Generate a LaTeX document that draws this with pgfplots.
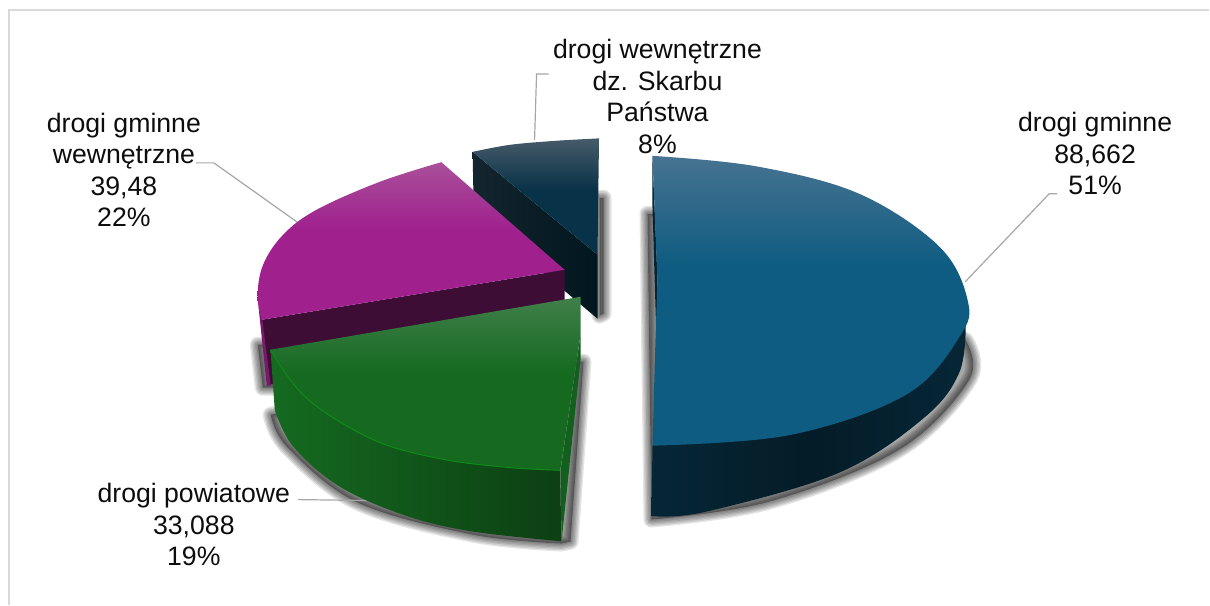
\documentclass[border=0pt]{standalone}
\usepackage{fontspec}
\setmainfont{Liberation Sans}
\usepackage{pgfplots}
\usepackage{pgfplotstable}
\pgfplotsset{compat=1.18}
\definecolor{bluetop}{HTML}{477391}\definecolor{bluemain}{HTML}{0E5C82}
\definecolor{greentop}{HTML}{417F4B}\definecolor{greenmain}{HTML}{156A20}
\definecolor{magtop}{HTML}{A8509A}\definecolor{magmain}{HTML}{A0218E}
\definecolor{darktop}{HTML}{465B69}\definecolor{darkmain}{HTML}{083248}
\definecolor{darkwallL}{HTML}{14252E}\definecolor{darkwallR}{HTML}{01161E}
\pgfdeclareverticalshading{blueS}{100bp}{color(0bp)=(bluemain);color(56bp)=(bluemain);color(75bp)=(bluetop);color(100bp)=(bluetop)}
\pgfdeclareverticalshading{greenS}{100bp}{color(0bp)=(greenmain);color(53bp)=(greenmain);color(75bp)=(greentop);color(100bp)=(greentop)}
\pgfdeclareverticalshading{magS}{100bp}{color(0bp)=(magmain);color(54bp)=(magmain);color(75bp)=(magtop);color(100bp)=(magtop)}
\pgfdeclareverticalshading{darkS}{100bp}{color(0bp)=(darkmain);color(53bp)=(darkmain);color(75bp)=(darktop);color(100bp)=(darktop)}
% ---- outlines, in picture pixels ----
\pgfplotstableread{
x y
653 156
757 166.5
860 194
940 246.7
968.3 300
961 336
907 395
790 435.5
653 446
}\blueTop
\pgfplotstableread{
x y
966.5 325
960 373
925 418
840 473
707 512
652 516.5
}\blueWall
\pgfplotstableread{
x y
653 156
653 207
657 340
658 280
}\blueSliver
\pgfplotstableread{
x y
652 520
770 502
900 450
970 380
966 340
}\blueShadow
\pgfplotstableread{
x y
270.7 350
306.7 398.3
373.3 440
440 459
506.7 467.7
560.7 470.7
}\greenTop
\pgfplotstableread{
x y
275 410
293.3 446.7
340 487
406.7 516.3
473.3 532
561.7 541.7
}\greenWall
\pgfplotstableread{
x y
581 335
581 360
562 542
561 470.7
}\greenSliver
\pgfplotstableread{
x y
271 415
288 448
358 503
473 535
562 544
}\greenShadow
\pgfplotstableread{
x y
441.7 162.3
380 182
316.7 210
283.3 235
263.3 265
257.7 296.7
262 320
}\magTop
\pgfplotstableread{
x y
262 320
565 270
565 345
270 385
}\magWall
\pgfplotstableread{
x y
258.7 306.7
262.5 320
271 386
267 386
}\magSliver
\pgfplotstableread{
x y
258 345
263 388
278 388
278 345
}\magShadow
\pgfplotstableread{
x y
473 152
510 145
555 141
599.5 138.5
}\darkTop
\pgfplotstableread{
x y
473 152
598 255
598 319
565 291
474 205
}\darkWall
\pgfplotstableread{
x y
600 198
604 198
604 314
600 316
}\darkShadow
\pgfplotstableread{
x y
9 605
9 10
1210 10
}\frameline
\pgfplotstableread{
x y
1058 194
1050 194
966 282
}\leadA
\pgfplotstableread{
x y
196 163
214 163
298 222.7
}\leadB
\pgfplotstableread{
x y
298 500
372 501
}\leadC
\pgfplotstableread{
x y
549 74
537 74
535 140
}\leadD
\tikzset{lab/.style={font=\fontsize{20}{23.7}\selectfont,align=center,text=black!95,inner sep=0pt},
 shl/.style={draw=black,draw opacity=.1,line join=round,fill=none},
 sm/.style={smooth,tension=.6}}
% #1 options, #2 outline, #3 closing path
\newcommand{\softshadow}[3][]{%
  \addplot[shl,#1,line width=12pt] table {#2} #3;
  \addplot[shl,#1,line width=10pt] table {#2} #3;
  \addplot[shl,#1,line width=8pt] table {#2} #3;
  \addplot[shl,#1,line width=6pt] table {#2} #3;
  \addplot[shl,#1,line width=4pt] table {#2} #3;
  \addplot[shl,#1,line width=2pt,fill=black,fill opacity=.35] table {#2} #3;
}
\begin{document}
\begin{tikzpicture}
\begin{axis}[
  scale only axis,width=907.5pt,height=453.75pt,
  xmin=0,xmax=1210,ymin=0,ymax=605,y dir=reverse,
  axis lines=none,clip=false,no marks]
\addplot[draw=none,fill=none] coordinates {(0,0) (1210,605)};
\addplot[draw=black!15,line width=1.5pt] table {\frameline};
\softshadow{\darkShadow}{--cycle}
\softshadow{\magShadow}{--cycle}
\softshadow[sm]{\greenShadow}{-- (axis cs:571,542) -- (axis cs:584,362) -- (axis cs:560,362) --cycle}
\softshadow[sm]{\blueShadow}{-- (axis cs:656,214) -- (axis cs:648,214) --cycle}
\addplot[draw=black!35,line width=.9pt] table {\leadA};
\addplot[draw=black!35,line width=.9pt] table {\leadB};
\addplot[draw=black!35,line width=.9pt] table {\leadC};
\addplot[draw=black!35,line width=.9pt] table {\leadD};
% dark slice
\addplot[draw=none,left color=darkwallL,right color=darkwallR] table {\darkWall} --cycle;
\addplot[draw=none,sm,shading=darkS] table {\darkTop} -- (axis cs:598,255) --cycle;
% magenta slice
\addplot[draw=none,fill=black!62!magmain] table {\magWall} --cycle;
\addplot[draw=none,fill=magmain!75!black] table {\magSliver} --cycle;
\addplot[draw=none,sm,shading=magS] table {\magTop} -- (axis cs:565,270) --cycle;
% green slice
\addplot[draw=none,sm,left color=greenmain,right color=black!40!greenmain] table {\greenWall} -- (axis cs:560.7,470.7) -- (axis cs:270.7,350) --cycle;
\addplot[draw=none,fill=black!10!greenmain] table {\greenSliver} --cycle;
\addplot[draw=none,sm,shading=greenS] table {\greenTop} -- (axis cs:581,335) -- (axis cs:581,297) --cycle;
\addplot[draw=green!22!greenmain,line width=.7pt,sm] table {\greenTop};
% blue slice
\addplot[draw=none,sm,left color=black!58!bluemain,right color=black!58!bluemain,middle color=black!70!bluemain] table {\blueWall} -- (axis cs:653,446) -- (axis cs:968,306) --cycle;
\addplot[draw=none,fill=black!60!bluemain] table {\blueSliver} --cycle;
\addplot[draw=none,sm,shading=blueS] table {\blueTop} -- (axis cs:656,340) -- (axis cs:658,280) --cycle;
\node[lab] at (axis cs:1096,154) {drogi gminne\\88,662\\51\%};
\node[lab] at (axis cs:124,170) {drogi gminne\\wewnętrzne\\39,48\\22\%};
\node[lab] at (axis cs:194,525) {drogi powiatowe\\33,088\\19\%};
\node[lab] at (axis cs:658,96.5) {drogi wewnętrzne\\dz. Skarbu\\Państwa\\8\%};
\end{axis}
\end{tikzpicture}
\end{document}
